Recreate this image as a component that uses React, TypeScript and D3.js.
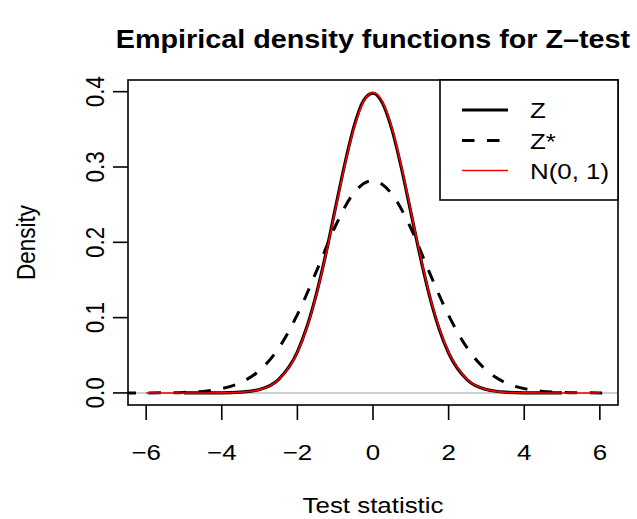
import React from "react";
import * as d3 from "d3";

const TITLE = "Empirical density functions for Z\u2013test";
const X_LABEL = "Test statistic";
const Y_LABEL = "Density";
const X_TICKS = [-6, -4, -2, 0, 2, 4, 6];
const Y_TICKS = [0, 0.1, 0.2, 0.3, 0.4];
const LEGEND_LABELS = ["Z", "Z*", "N(0, 1)"];

// Z (empirical density)
const zX = [-5, -4.5, -4, -3.5, -3, -2.5, -2, -1.75, -1.5, -1.25, -1, -0.75, -0.5, -0.25, 0, 0.25, 0.5, 0.75, 1, 1.25, 1.5, 1.75, 2, 2.5, 3, 3.5, 4, 4.5, 5];
const zY = [0, 0.0001, 0.0002, 0.001, 0.0046, 0.0178, 0.0545, 0.0875, 0.131, 0.184, 0.244, 0.303, 0.354, 0.388, 0.398, 0.385, 0.350, 0.299, 0.240, 0.181, 0.128, 0.085, 0.053, 0.017, 0.0045, 0.001, 0.0002, 0.0001, 0];

// Z* (empirical density)
const zsX = [-6.6, -6, -5.5, -5, -4.5, -4, -3.5, -3, -2.5, -2, -1.5, -1, -0.5, 0, 0.5, 1, 1.5, 2, 2.5, 3, 3.5, 4, 4.5, 5, 5.5, 6, 6.2];
const zsY = [0.00001, 0.00005, 0.0002, 0.0007, 0.002, 0.0057, 0.0137, 0.030, 0.059, 0.104, 0.161, 0.221, 0.266, 0.282, 0.264, 0.219, 0.159, 0.103, 0.059, 0.030, 0.0137, 0.0057, 0.002, 0.0007, 0.0002, 0.00005, 0.00002];

// N(0, 1)
const nX = [-6, -5.5, -5, -4.5, -4, -3.5, -3, -2.5, -2, -1.75, -1.5, -1.25, -1, -0.75, -0.5, -0.25, 0, 0.25, 0.5, 0.75, 1, 1.25, 1.5, 1.75, 2, 2.5, 3, 3.5, 4, 4.5, 5, 5.5, 6];
const nY = [0, 0, 0, 0, 0.0001, 0.0009, 0.0044, 0.0175, 0.054, 0.0863, 0.1295, 0.1826, 0.242, 0.3011, 0.352, 0.3867, 0.399, 0.3867, 0.352, 0.3011, 0.242, 0.1826, 0.1295, 0.0863, 0.054, 0.0175, 0.0044, 0.0009, 0.0001, 0, 0, 0, 0];

const W = 637, H = 519;
const PL = 128, PR = 618, PT = 80, PB = 405;
const SX = 1.15;
const FONT = "'Liberation Sans', Arial, Helvetica, sans-serif";
const FS = 22.5;

function T({ x, y, rot = false, size = FS, weight = "normal", anchor = "middle", children }: any) {
  const tr = rot
    ? `translate(${x},${y}) rotate(-90) scale(1,${SX})`
    : `translate(${x},${y}) scale(${SX},1)`;
  return (
    <text transform={tr} fontSize={size} fontWeight={weight} textAnchor={anchor} fontFamily={FONT} fill="#000">
      {children}
    </text>
  );
}

export default function App() {
  const x = d3.scaleLinear().domain([-6.48, 6.48]).range([PL, PR]);
  const y = d3.scaleLinear().domain([-0.016, 0.4155]).range([PB, PT]);
  const mk = (xs: number[], ys: number[]) =>
    d3.line<number>().x((_, i) => x(xs[i])).y((d) => y(d)).curve(d3.curveMonotoneX)(ys) || "";

  const fmtX = (v: number) => (v < 0 ? "\u2212" + Math.abs(v) : String(v));
  const legY = [110, 140.5, 170.5];

  return (
    <svg width={W} height={H} style={{ position: "absolute", left: 0, top: 0, background: "#fff" }}>
      <defs>
        <clipPath id="plotclip">
          <rect x={PL} y={PT} width={PR - PL} height={PB - PT} />
        </clipPath>
      </defs>
      <rect x={0} y={0} width={W} height={H} fill="#fff" />
      <g clipPath="url(#plotclip)">
        <line x1={PL} x2={PR} y1={y(0)} y2={y(0)} stroke="#bebebe" strokeWidth={1.5} />
        <path d={mk(zsX, zsY)} fill="none" stroke="#000" strokeWidth={3} strokeDasharray="12.5 12.5" />
        <path d={mk(zX, zY)} fill="none" stroke="#000" strokeWidth={3.2} />
        <path d={mk(nX, nY)} fill="none" stroke="#ff0000" strokeWidth={1.6} />
      </g>
      <rect x={PL} y={PT} width={PR - PL} height={PB - PT} fill="none" stroke="#000" strokeWidth={1.6} />
      {X_TICKS.map((t) => (
        <g key={"xt" + t}>
          <line x1={x(t)} x2={x(t)} y1={PB} y2={PB + 15} stroke="#000" strokeWidth={1.6} />
          <T x={x(t)} y={460}>{fmtX(t)}</T>
        </g>
      ))}
      {Y_TICKS.map((t) => (
        <g key={"yt" + t}>
          <line x1={PL - 15} x2={PL} y1={y(t)} y2={y(t)} stroke="#000" strokeWidth={1.6} />
          <T x={104} y={y(t)} rot>{t.toFixed(1)}</T>
        </g>
      ))}
      <T x={(PL + PR) / 2} y={48} size={25} weight="bold">{TITLE}</T>
      <T x={(PL + PR) / 2} y={513}>{X_LABEL}</T>
      <T x={35} y={(PT + PB) / 2} rot>{Y_LABEL}</T>
      <g>
        <rect x={440} y={PT} width={PR - 440} height={120} fill="#fff" stroke="#000" strokeWidth={1.6} />
        <line x1={462} x2={508} y1={legY[0]} y2={legY[0]} stroke="#000" strokeWidth={3.2} />
        <line x1={462} x2={508} y1={legY[1]} y2={legY[1]} stroke="#000" strokeWidth={3} strokeDasharray="12.5 12.5" />
        <line x1={462} x2={508} y1={legY[2]} y2={legY[2]} stroke="#ff0000" strokeWidth={1.6} />
        {LEGEND_LABELS.map((l, i) => (
          <T key={l} x={530} y={legY[i] + 8} anchor="start">{l}</T>
        ))}
      </g>
    </svg>
  );
}
